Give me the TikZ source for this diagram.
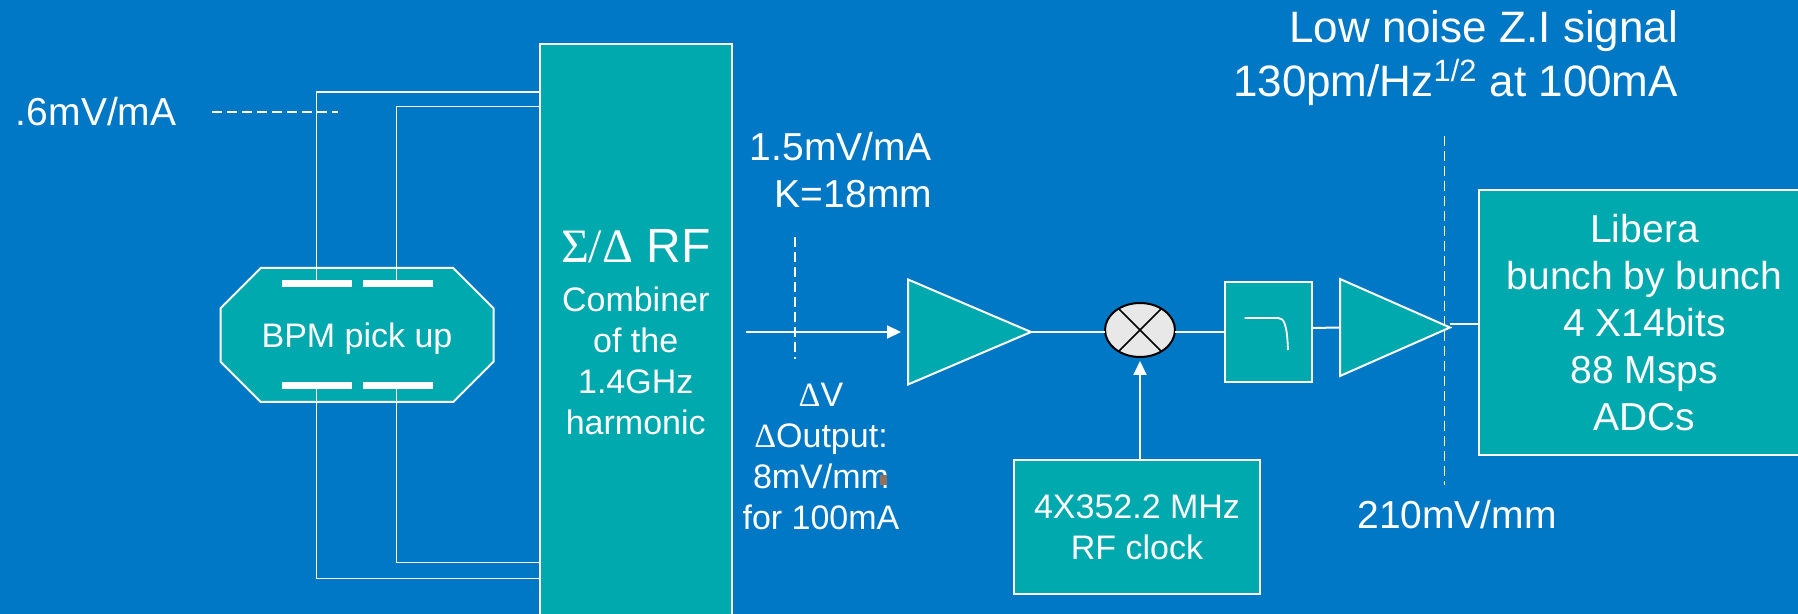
\documentclass[tikz,border=0pt]{standalone}
\usepackage{fontspec}
\setmainfont{Liberation Sans}
\newfontfamily\symbfont{Liberation Serif}
\usetikzlibrary{arrows.meta,positioning,calc,shapes.geometric,shapes.misc}
\definecolor{slideBlue}{RGB}{0, 120, 197}
\definecolor{boxTeal}{RGB}{0, 169, 173}
\definecolor{mixGrey}{RGB}{232, 232, 232}
\definecolor{smudgeBrown}{RGB}{150, 110, 90}

\begin{document}
\begin{tikzpicture}[
        x=0.5pt, y=-0.5pt,
        every node/.style={text=white, inner sep=0pt, outer sep=0pt},
        box/.style={draw=white, fill=boxTeal, line width=1pt, align=center},
        plate/.style={fill=white, minimum width=35pt, minimum height=3.5pt},
        amp/.style={draw=white, fill=boxTeal, line width=1pt, isosceles triangle, isosceles triangle stretches, anchor=lower side},
        wire/.style={draw=white, line width=0.9pt},
        sig/.style={draw=white, line width=1pt},
        arr/.style={sig, -{Triangle[length=7pt, width=6.5pt]}},
        dashline/.style={draw=white, line width=0.7pt, dash pattern=on 5pt off 2.5pt},
        small/.style={font=\fontsize{17pt}{20.5pt}\selectfont, align=center},
        mid/.style={font=\fontsize{19.5pt}{23.5pt}\selectfont, align=center},
        large/.style={font=\fontsize{22pt}{27pt}\selectfont, align=right}
    ]
        \fill[slideBlue] (0,0) rectangle (1798,614);
        \useasboundingbox (0,0) rectangle (1798,614);

        % Pick up and combiner
        \node[draw=white, fill=boxTeal, line width=1pt, chamfered rectangle, chamfered rectangle xsep=14pt, chamfered rectangle ysep=14pt, minimum width=136.5pt, minimum height=67pt, small, text depth=0pt] (bpm) at (357, 335) {BPM pick up};
        \node[plate] (plateA) at (316.5, 284) {};
        \node[plate] (plateB) at (398, 284) {};
        \node[plate] (plateC) at (316.5, 386) {};
        \node[plate] (plateD) at (398, 386) {};
        \node[box, small, minimum width=96pt, minimum height=288pt] (comb) at (635.75, 332) {{\fontsize{24pt}{24pt}\selectfont{\symbfont Σ/Δ} RF}\\[4.3pt]Combiner\\of the\\1.4GHz\\harmonic};
        \coordinate (inA) at (comb.west |- 0, 92);
        \coordinate (inB) at (comb.west |- 0, 106.5);
        \coordinate (inC) at (comb.west |- 0, 562.5);
        \coordinate (inD) at (comb.west |- 0, 578.5);
        \draw[wire] (plateA.north) |- (inA);
        \draw[wire] ([xshift=-0.75pt]plateB.north) |- (inB);
        \draw[wire] (plateC.south) |- (inD);
        \draw[wire] ([xshift=-0.75pt]plateD.south) |- (inC);
        \node[mid, anchor=west] (pickLevel) at (16, 112) {.6mV/mA};
        \coordinate (pickEnd) at (338, 112);
        \draw[dashline] (212, 112) -- (pickEnd);

        % Signal chain
        \node[amp, minimum width=52.5pt, minimum height=61.5pt] (ampA) at (908, 332) {};
        \node[draw=black, fill=mixGrey, line width=1pt, ellipse, minimum width=35pt, minimum height=27pt] (mix) at (1140, 330) {};
        \draw[black, line width=0.8pt] (mix.45) -- (mix.225) (mix.135) -- (mix.315);
        \node[box, minimum width=43.5pt, minimum height=50pt] (filt) at (1268.5, 332) {};
        \draw[wire] (1244.5, 318) -- (1278, 318) .. controls (1284, 318) and (1287, 324) .. (1288, 350);
        \node[amp, minimum width=48.5pt, minimum height=55pt] (ampB) at (1340, 327.5) {};
        \node[box, mid, minimum width=165.5pt, minimum height=132.5pt] (libera) at (1644.5, 322.5) {Libera\\bunch by bunch\\4 X14bits\\88 Msps\\ADCs};
        \node[box, small, minimum width=123pt, minimum height=67pt] (clock) at (1137, 527) {4X352.2 MHz\\RF clock};
        \coordinate (adcIn) at (libera.west |- 0, 324);
        \draw[arr, shorten <=7pt, shorten >=3.5pt] (comb.east) -- (ampA.lower side);
        \draw[sig] (ampA.apex) -- (ampA.apex -| mix.west);
        \draw[sig] (mix.east |- filt.west) -- (filt.west);
        \draw[sig] ([yshift=2pt]filt.east) -- (ampB.lower side);
        \draw[sig] (ampB.apex |- adcIn) -- (adcIn);
        \draw[arr, shorten >=2pt] (clock.north -| mix.south) -- (mix.south);

        % Levels along the chain
        \node[mid, align=right, anchor=east] (inLevel) at (932, 170) {1.5mV/mA\\K=18mm};
        \draw[dashline] (795, 237) -- (795, 359);
        \node[small] (outLevel) at (821, 456) {{\symbfont Δ}V\\{\symbfont Δ}Output:\\8mV/mm\\for 100mA};
        \node[fill=smudgeBrown, minimum width=3.5pt, minimum height=5pt] (smudge) at (883, 480) {};
        \node[large, anchor=east] (noise) at (1678, 58) {Low noise Z.I signal\\130pm/Hz\textsuperscript{1/2} at 100mA};
        \draw[dashline] (1444.5, 136) -- (1444.5, 485);
        \node[mid] (adcLevel) at (1457, 515) {210mV/mm};
\end{tikzpicture}
\end{document}
